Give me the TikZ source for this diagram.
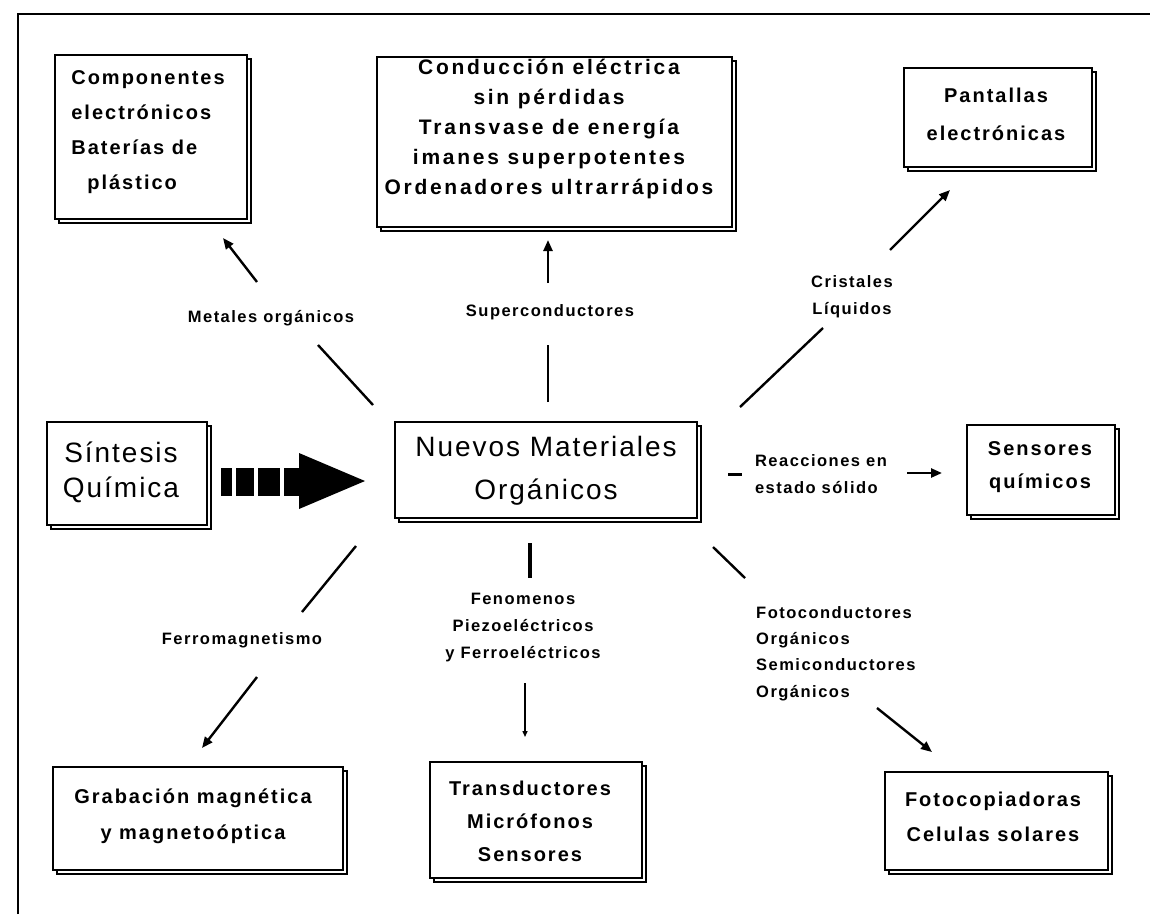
\documentclass[tikz,border=0pt]{standalone}
\usepackage{fontspec}
\setmainfont{Liberation Sans}
\newfontfamily\boxf[LetterSpace=10]{Liberation Sans}
\newfontfamily\wbox[LetterSpace=13]{Liberation Sans}
\newfontfamily\bigf[LetterSpace=7]{Liberation Sans}
\newfontfamily\labf[LetterSpace=9]{Liberation Sans}
\usetikzlibrary{shadows,arrows.meta}
\begin{document}
\begin{tikzpicture}[x=1pt,y=-1pt,
  box/.style={draw, line width=1.6pt, fill=white, inner sep=0pt,
    copy shadow={shadow xshift=4pt, shadow yshift=-4pt}},
  btext/.style={font={\boxf\bfseries\fontsize{20}{#1}\selectfont}, align=center, inner sep=0pt},
  bigtext/.style={font={\bigf\fontsize{28}{#1}\selectfont}, align=center, inner sep=0pt},
  lab/.style={font={\labf\bfseries\fontsize{16.5}{27}\selectfont}, inner sep=0pt},
  conn/.style={line width=2.4pt},
  arr/.style={conn, -{Triangle[length=11pt,width=9pt]}}]
\useasboundingbox (0,0) rectangle (1150,914);
% frame
\draw[line width=2pt] (18,914) -- (18,14) -- (1150,14);

% boxes
\node[box, minimum width=192pt, minimum height=164pt] (b1) at (151,137) {};
\node[btext=35, align=left] (t1) at (148,132) {Componentes\\electrónicos\\Baterías de\\\hspace{0.8em}plástico};

\node[box, minimum width=355pt, minimum height=170pt] (b2) at (554.5,142) {};
\node[font={\wbox\bfseries\fontsize{21}{30}\selectfont}, align=center, inner sep=0pt] (t2) at (549,129)
  {Conducción eléctrica\\sin pérdidas\\Transvase de energía\\imanes superpotentes\\Ordenadores ultrarrápidos};

\node[box, minimum width=188pt, minimum height=99pt] (b3) at (998,117.5) {};
\node[btext=38] (t3) at (996,114) {Pantallas\\electrónicas};

\node[box, minimum width=160pt, minimum height=103pt] (sint) at (127,473.5) {};
\node[bigtext=35] (tsint) at (121,472) {Síntesis\\Química};

\node[box, minimum width=302pt, minimum height=96pt] (nuevos) at (546,470) {};
\node[bigtext=43] (tnuevos) at (546,471) {Nuevos Materiales\\Orgánicos};

\node[box, minimum width=148pt, minimum height=90pt] (sens) at (1041,470) {};
\node[btext=33] (tsens) at (1040,467) {Sensores\\químicos};

\node[box, minimum width=290pt, minimum height=103pt] (grab) at (198,818.5) {};
\node[btext=36] (tgrab) at (193,816) {Grabación magnética\\y magnetoóptica};

\node[box, minimum width=212pt, minimum height=116pt] (trans) at (536,820) {};
\node[btext=33] (ttrans) at (530,821) {Transductores\\Micrófonos\\Sensores};

\node[box, minimum width=223pt, minimum height=98pt] (foto) at (996.5,821) {};
\node[btext=35] (tfoto) at (993,816.5) {Fotocopiadoras\\Celulas solares};

% big dashed arrow
\fill (221,468) rectangle (232,496);
\fill (236,468) rectangle (254,496);
\fill (258,468) rectangle (280,496);
\fill (284,468) rectangle (299,496);
\fill (299,453) -- (365,481) -- (299,509) -- cycle;

% labels
\node[lab] (lmet) at (271,318) {Metales orgánicos};
\node[lab] (lsup) at (550,312) {Superconductores};
\node[lab, align=center] (lcri) at (852,297) {Cristales\\Líquidos};
\node[lab, align=left] (lrea) at (821,474) {Reacciones en\\estado sólido};
\node[lab] (lfer) at (242,640) {Ferromagnetismo};
\node[lab, align=center] (lfen) at (523,628) {Fenomenos\\Piezoeléctricos\\y Ferroeléctricos};
\node[lab, align=left, anchor=west, font={\labf\bfseries\fontsize{16.5}{26.3}\selectfont}] (lfot) at (756,653.5) {Fotoconductores\\Orgánicos\\Semiconductores\\Orgánicos};

% connector coordinates
\coordinate (ul1) at (373,405); \coordinate (ul2) at (318,345);
\coordinate (ul3) at (257,282); \coordinate (ul4) at (223,238);
\coordinate (up1) at (548,402); \coordinate (up2) at (548,345);
\coordinate (up3) at (548,283); \coordinate (up4) at (548,240);
\coordinate (ur1) at (740,407); \coordinate (ur2) at (823,328);
\coordinate (ur3) at (890,250); \coordinate (ur4) at (950,190);
\coordinate (r1) at (728,474); \coordinate (r2) at (742,474);
\coordinate (r3) at (907,473); \coordinate (r4) at (942,473);
\coordinate (ll1) at (356,546); \coordinate (ll2) at (302,612);
\coordinate (ll3) at (257,677); \coordinate (ll4) at (202,748);
\coordinate (d1) at (530,543); \coordinate (d2) at (530,578);
\coordinate (d3) at (525,683); \coordinate (d4) at (525,737);
\coordinate (lr1) at (713,547); \coordinate (lr2) at (745,578);
\coordinate (lr3) at (877,708); \coordinate (lr4) at (932,752);

\draw[conn] (ul1) -- (ul2);  \draw[arr] (ul3) -- (ul4);
\draw[conn] (up1) -- (up2);  \draw[arr] (up3) -- (up4);
\draw[conn] (ur1) -- (ur2);  \draw[arr] (ur3) -- (ur4);
\draw[line width=3pt] (r1) -- (r2);  \draw[arr] (r3) -- (r4);
\draw[conn] (ll1) -- (ll2);  \draw[arr] (ll3) -- (ll4);
\draw[line width=3.2pt] (d1) -- (d2);  \draw[line width=1.4pt, -{Triangle[length=6pt,width=5pt]}] (d3) -- (d4);
\draw[conn] (lr1) -- (lr2);  \draw[arr] (lr3) -- (lr4);
\end{tikzpicture}
\end{document}
